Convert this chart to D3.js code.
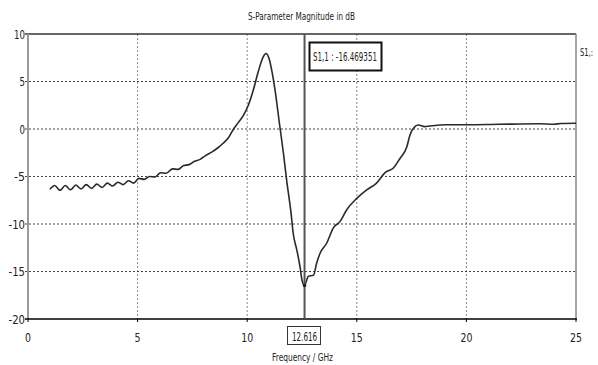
<!DOCTYPE html>
<html>
<head>
<meta charset="utf-8">
<script src="https://cdn.jsdelivr.net/npm/d3@7"></script>
<style>
  body { margin: 0; background: #fff; }
  svg text { font-family: "DejaVu Sans", sans-serif; fill: #222; }
</style>
</head>
<body>
<svg id="chart" width="598" height="365"></svg>
<script>
// S1,1 magnitude
var freq = [1.0, 1.22, 1.46, 1.70, 1.94, 2.18, 2.42, 2.66, 2.90, 3.14, 3.38, 3.62, 3.86, 4.10, 4.34, 4.58, 4.82, 5.06,
  5.3, 5.55, 5.8, 6.05, 6.3, 6.6, 6.85, 7.1, 7.35, 7.6, 7.85, 8.1, 8.4, 8.65, 8.9, 9.15, 9.35, 9.6, 9.82,
  10.05, 10.28, 10.5, 10.73, 10.86, 11.0, 11.15, 11.27, 11.47, 11.65, 11.8, 12.0, 12.1, 12.26, 12.41, 12.5, 12.616,
  12.79, 13.02, 13.17, 13.32, 13.63, 13.93, 14.23, 14.54, 15.0, 15.45, 15.9, 16.29, 16.67, 16.97, 17.28, 17.43,
  17.65, 17.8, 18.1, 18.34, 19.1, 20.0, 21.5, 23.36, 24.0, 24.3, 25.0];
var s11 = [-6.35, -5.95, -6.45, -5.95, -6.4, -5.9, -6.3, -5.85, -6.25, -5.8, -6.15, -5.7, -6.0, -5.6, -5.85, -5.45, -5.7, -5.2,
  -5.3, -5.0, -5.05, -4.6, -4.65, -4.2, -4.25, -3.85, -3.75, -3.4, -3.2, -2.8, -2.4, -2.0, -1.5, -0.9, -0.1, 0.7, 1.4,
  2.5, 4.1, 6.0, 7.6, 7.95, 7.4, 5.8, 4.1, 0.6, -2.5, -5.4, -8.85, -11.0, -12.7, -14.5, -15.9, -16.47,
  -15.5, -15.4, -14.1, -13.1, -12.0, -10.4, -9.75, -8.5, -7.3, -6.4, -5.7, -4.6, -4.1, -3.1, -1.9, -0.6,
  0.25, 0.42, 0.25, 0.32, 0.45, 0.45, 0.5, 0.55, 0.5, 0.58, 0.6];
var xTicks = [0, 5, 10, 15, 20, 25];
var yTicks = [-20, -15, -10, -5, 0, 5, 10];
var markerFreq = 12.616;
var markerValue = -16.469351;

var svg = d3.select('#chart');
var x = d3.scaleLinear().domain([0, 25]).range([28, 576]);
var y = d3.scaleLinear().domain([-20, 10]).range([319, 34]);

// squeezed text, the original font is narrow
function label(sel, txt, px, py, w, anchor, size) {
  return sel.append('text')
    .attr('x', px).attr('y', py)
    .attr('font-size', size || 12)
    .attr('text-anchor', anchor || 'start')
    .attr('textLength', w)
    .attr('lengthAdjust', 'spacingAndGlyphs')
    .text(txt);
}

// grid
svg.append('g').selectAll('line')
  .data(xTicks.filter(function(d) { return d > 0 && d < 25; }))
  .enter().append('line')
    .attr('x1', function(d) { return x(d); }).attr('x2', function(d) { return x(d); })
    .attr('y1', 34).attr('y2', 319)
    .attr('stroke', '#888').attr('stroke-dasharray', '2,2');
svg.append('g').selectAll('line')
  .data(yTicks.filter(function(d) { return d > -20 && d < 10; }))
  .enter().append('line')
    .attr('x1', 25).attr('x2', 576)
    .attr('y1', function(d) { return y(d); }).attr('y2', function(d) { return y(d); })
    .attr('stroke', '#444').attr('stroke-dasharray', '2,2');

// frame
svg.append('line').attr('x1', 25).attr('x2', 576).attr('y1', 34).attr('y2', 34).attr('stroke', '#333').attr('stroke-width', 1.5);
svg.append('line').attr('x1', 576).attr('x2', 576).attr('y1', 34).attr('y2', 319).attr('stroke', '#888').attr('stroke-width', 1.5);
svg.append('line').attr('x1', 28).attr('x2', 28).attr('y1', 34).attr('y2', 319).attr('stroke', '#999').attr('stroke-width', 2);
svg.append('line').attr('x1', 25).attr('x2', 577).attr('y1', 319).attr('y2', 319).attr('stroke', '#000').attr('stroke-width', 1.5);
svg.append('g').selectAll('line')
  .data(xTicks)
  .enter().append('line')
    .attr('x1', function(d) { return x(d); }).attr('x2', function(d) { return x(d); })
    .attr('y1', 319).attr('y2', 322)
    .attr('stroke', '#000');

// tick labels
xTicks.forEach(function(d) {
  label(svg, String(d), x(d), 342, String(d).length * 6, 'middle');
});
yTicks.forEach(function(d) {
  label(svg, String(d), 25, y(d) + 4.5, String(d).length * 5.5, 'end');
});

// curve
var pts = freq.map(function(f, i) { return [f, s11[i]]; });
svg.append('path')
  .datum(pts)
  .attr('fill', 'none')
  .attr('stroke', '#2a2a2a')
  .attr('stroke-width', 1.6)
  .attr('d', d3.line()
    .x(function(d) { return x(d[0]); })
    .y(function(d) { return y(d[1]); })
    .curve(d3.curveMonotoneX));

// marker
svg.append('line')
  .attr('x1', x(markerFreq)).attr('x2', x(markerFreq))
  .attr('y1', 34).attr('y2', 319)
  .attr('stroke', '#555').attr('stroke-width', 2);
svg.append('circle')
  .attr('cx', x(markerFreq)).attr('cy', y(markerValue)).attr('r', 1.8).attr('fill', '#222');
svg.append('rect')
  .attr('x', 309.5).attr('y', 42.5).attr('width', 72).attr('height', 28)
  .attr('fill', '#fff').attr('stroke', '#111').attr('stroke-width', 2);
label(svg, 'S1,1 : ' + markerValue.toFixed(6), 313, 61, 64, 'start', 12);
svg.append('rect')
  .attr('x', 287.5).attr('y', 326.5).attr('width', 33).attr('height', 18)
  .attr('fill', '#fff').attr('stroke', '#333').attr('stroke-width', 1);
label(svg, markerFreq.toFixed(3), x(markerFreq), 341, 25, 'middle', 12);

// titles
label(svg, 'S-Parameter Magnitude in dB', 248, 20, 107, 'start', 11);
label(svg, 'Frequency / GHz', 272, 361, 61, 'start', 11);
label(svg, 'S1,:', 580, 56, 13, 'start', 10);
</script>
</body>
</html>
